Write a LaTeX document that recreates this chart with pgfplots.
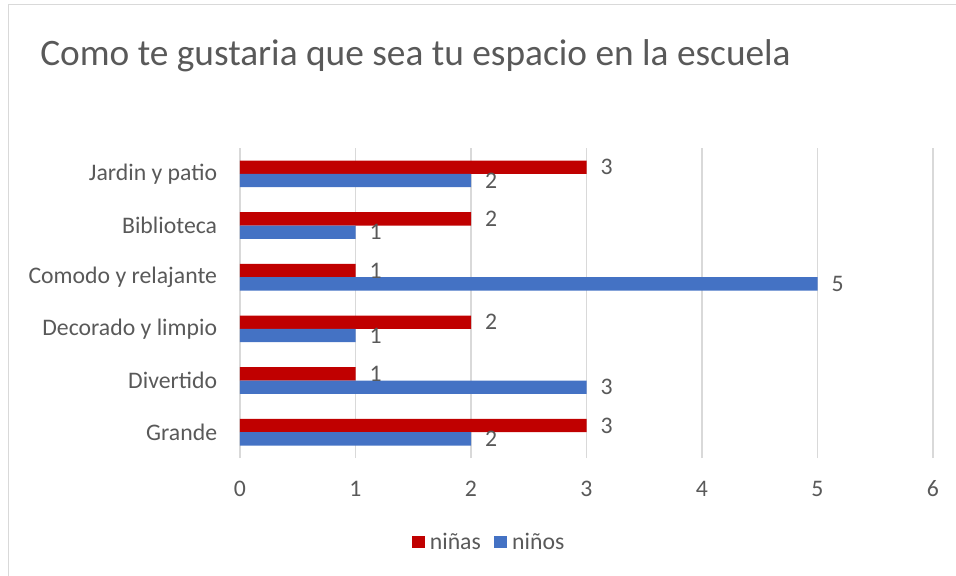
\documentclass[border=0pt]{standalone}
\usepackage{fontspec}
\setmainfont{Carlito}
\usepackage{pgfplots}
\pgfplotsset{compat=1.18}
\definecolor{ninas}{HTML}{C00000}
\definecolor{ninos}{HTML}{4472C4}
\definecolor{txt}{HTML}{595959}
\definecolor{gridc}{HTML}{D9D9D9}
\begin{document}
\begin{tikzpicture}[x=0.75pt,y=0.75pt]
\useasboundingbox (0,0) rectangle (956,575);
\draw[gridc, line width=1pt] (8.5,-10) -- (8.5,570.5) -- (970,570.5);
\node[anchor=base west, text=txt, font=\fontsize{28}{30}\selectfont, inner sep=0pt] at (40,509) {Como te gustaria que sea tu espacio en la escuela};
\begin{axis}[
  at={(180pt,87.75pt)}, anchor=south west,
  scale only axis, width=519.75pt, height=232.5pt,
  xbar, bar width=10pt,
  xmin=0, xmax=6, ymin=-0.5, ymax=5.5,
  xtick={0,1,2,3,4,5,6},
  ytick={0,1,2,3,4,5},
  yticklabels={Grande,Divertido,Decorado y limpio,Comodo y relajante,Biblioteca,Jardin y patio},
  major tick length=0pt,
  axis line style={draw=none},
  xmajorgrids, grid style={gridc, line width=1pt},
  tick label style={text=txt, font=\fontsize{17.8}{20}\selectfont},
  yticklabel style={inner sep=0pt, xshift=-17pt},
  xticklabel style={anchor=center, inner sep=0pt, yshift=-23pt},
  /pgf/number format/assume math mode=true,
  nodes near coords,
  nodes near coords style={text=txt, font=\fontsize{17.8}{20}\selectfont, anchor=west, xshift=7pt},
  legend style={at={(0.36,-0.271)}, anchor=center, legend columns=2, draw=none, fill=none,
    font=\fontsize{17.8}{20}\selectfont, text=txt,
    /tikz/every odd column/.append style={column sep=2pt},
    /tikz/every even column/.append style={column sep=8pt}},
  legend image code/.code={\fill[#1] (0pt,-4.5pt) rectangle (9.5pt,4.5pt);},
]
\addplot[draw=none, fill=ninas, bar shift=5pt] coordinates {(3,0) (1,1) (2,2) (1,3) (2,4) (3,5)};
\addlegendentry{niñas}
\addplot[draw=none, fill=ninos, bar shift=-5pt] coordinates {(2,0) (3,1) (1,2) (5,3) (1,4) (2,5)};
\addlegendentry{niños}
\end{axis}
\end{tikzpicture}
\end{document}
